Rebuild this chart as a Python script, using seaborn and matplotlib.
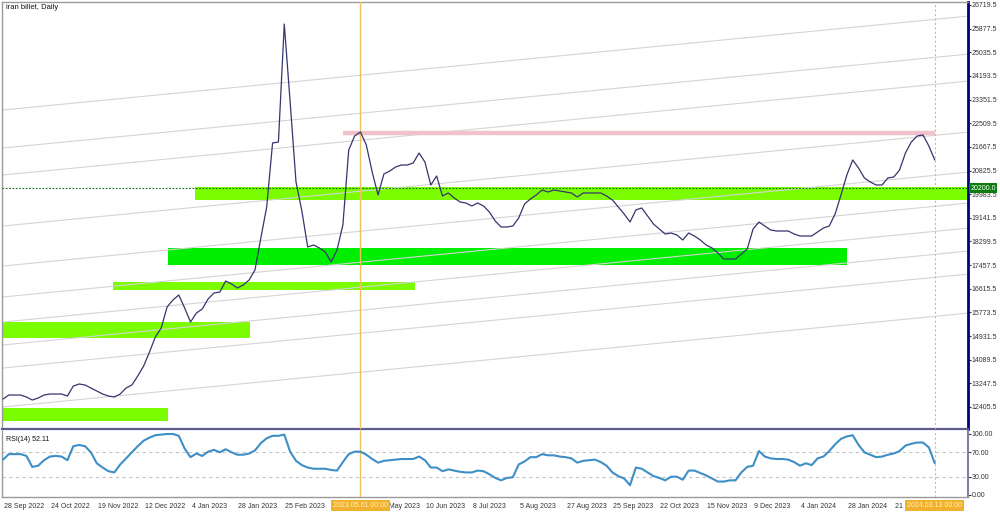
import numpy as np
import pandas as pd
import matplotlib
matplotlib.use("Agg")
import matplotlib.pyplot as plt
import matplotlib.transforms as mtransforms
from matplotlib.patches import Rectangle
import seaborn as sns

sns.set_style("white")
plt.rcParams['font.family'] = ['Liberation Sans', 'DejaVu Sans']

# daily bar index (read every 2nd bar), 0 = 28 Sep 2022, 318 = 2024.03.13
bars = list(range(0, 320, 2))

price = [
    12689, 12831, 12831, 12831, 12760, 12653, 12725, 12831, 12867, 12867,
    12867, 12796, 13152, 13223, 13188, 13081, 12974, 12867, 12796, 12760,
    12867, 13081, 13188, 13509, 13864, 14363, 14897, 15217, 15965, 16214,
    16393, 15929, 15431, 15751, 15894, 16250, 16464, 16500, 16891, 16784,
    16642, 16749, 16927, 17283, 18422, 19526, 21805, 21841, 26041, 23265,
    20417, 19384, 18102, 18173, 18066, 17924, 17568, 17995, 18885, 21556,
    22055, 22197, 21734, 20773, 19954, 20701, 20808, 20951, 21022, 21022,
    21093, 21449, 21129, 20310, 20630, 19918, 20025, 19847, 19704, 19669,
    19562, 19669, 19562, 19348, 19028, 18814, 18814, 18850, 19135, 19633,
    19811, 19954, 20132, 20060, 20132, 20096, 20060, 20025, 19882, 20025,
    20025, 20025, 20025, 19918, 19775, 19526, 19277, 18992, 19420, 19491,
    19206, 18921, 18743, 18565, 18600, 18529, 18351, 18600, 18493, 18351,
    18173, 18066, 17888, 17674, 17674, 17674, 17852, 18030, 18743, 18992,
    18850, 18707, 18672, 18672, 18672, 18565, 18493, 18493, 18493, 18636,
    18778, 18850, 19277, 19954, 20666, 21200, 20915, 20559, 20417, 20310,
    20310, 20559, 20594, 20844, 21449, 21841, 22055, 22090, 21698, 21200,
]

rsi = [
    58, 67, 67, 67, 64, 46, 48, 57, 63, 64,
    63, 57, 80, 82, 80, 70, 52, 45, 39, 37,
    50, 60, 70, 80, 89, 94, 98, 99, 100, 100,
    97, 76, 62, 68, 64, 71, 74, 70, 75, 70,
    66, 66, 68, 73, 85, 93, 97, 97, 99, 71,
    56, 49, 45, 43, 43, 43, 41, 40, 54, 67,
    71, 71, 66, 59, 53, 56, 57, 58, 59, 59,
    59, 63, 57, 45, 45, 39, 42, 40, 38, 37,
    37, 40, 39, 34, 28, 24, 28, 29, 50, 55,
    62, 62, 67, 65, 65, 63, 62, 60, 53, 56,
    57, 58, 54, 48, 37, 31, 27, 16, 45, 43,
    37, 31, 28, 24, 30, 30, 25, 40, 40, 36,
    32, 27, 22, 22, 24, 24, 37, 46, 48, 72,
    63, 60, 59, 59, 58, 54, 48, 52, 49, 60,
    63, 72, 83, 92, 96, 98, 82, 70, 66, 62,
    63, 66, 68, 72, 81, 84, 86, 86, 78, 52.11,
]

# x axis labels every 16 bars (the one at bar 112 is hidden under the highlight)
label_bars = [0, 16, 32, 48, 64, 80, 96, 112, 128, 144, 160, 176, 192, 208,
              224, 240, 256, 272, 288, 304]
label_text = ["28 Sep 2022", "24 Oct 2022", "19 Nov 2022", "12 Dec 2022",
              "4 Jan 2023", "28 Jan 2023", "25 Feb 2023", "",
              "14 May 2023", "10 Jun 2023", "8 Jul 2023", "5 Aug 2023",
              "27 Aug 2023", "25 Sep 2023", "22 Oct 2023", "15 Nov 2023",
              "9 Dec 2023", "4 Jan 2024", "28 Jan 2024", "21 Feb 2024"]

price_ticks = [26719.5, 25877.5, 25035.5, 24193.5, 23351.5, 22509.5, 21667.5,
               20825.5, 19983.5, 19141.5, 18299.5, 17457.5, 16615.5, 15773.5,
               14931.5, 14089.5, 13247.5, 12405.5]
rsi_ticks = [0, 30, 70, 100]

# green zones (rectangles): bar range and price range
zone_start = [-5, -5, 37.5, 56.3, 65.5]
zone_end = [56.3, 84.3, 140.6, 288, 340]
zone_low = [11906, 14861, 16571, 17461, 19775]
zone_high = [12369, 15431, 16856, 18066, 20230]
zone_color = ["#7cfc00", "#7cfc00", "#7cfc00", "#00ee00", "#7cfc00"]

# parallel channel lines: value at bar 0 and slope per bar
channel_start = [22980, 21627, 20666, 18850, 17425, 16322, 15431, 14612, 13793, 12404]
channel_slope = 10.15

resistance = 22162
resistance_bars = [116, 318]
bid = 20200.0
marker_bar = 122
last_bar = 318

fig = plt.figure(figsize=(10, 5.14), dpi=100)
ax = fig.add_axes([0.002, 1 - 429 / 514, 0.966, 427 / 514])
ax2 = fig.add_axes([0.002, 1 - 497 / 514, 0.966, 66 / 514])

xlim = (-0.34, 329.35)

# zones
for x0, x1, lo, hi, c in zip(zone_start, zone_end, zone_low, zone_high, zone_color):
    ax.add_patch(Rectangle((x0, lo), x1 - x0, hi - lo, facecolor=c, edgecolor="none", zorder=1))

# channel lines
xs = np.array(xlim)
for v0 in channel_start:
    ax.plot(xs, v0 + channel_slope * xs, color="#d4d4d4", lw=0.8, zorder=2)

ax.hlines(resistance, resistance_bars[0], resistance_bars[1], color="#f2c2cc", lw=3.2, zorder=3)
ax.axhline(bid, color="#0a6e0a", lw=0.8, ls=(0, (1.5, 1.5)), zorder=3)

sns.lineplot(x=bars, y=price, ax=ax, color="#35356f", lw=0.9, zorder=5)

for a in (ax, ax2):
    a.axvline(marker_bar, color="#f0c060", lw=1.0, zorder=4)
    a.axvline(last_bar, color="#dcb67c", lw=0.8, ls=(0, (2, 2)), zorder=4)

ax.set_xlim(xlim)
ax.set_ylim(11621, 26826)
ax.set_xticks([])
ax.set_xlabel("")
ax.set_ylabel("")
ax.yaxis.tick_right()
ax.set_yticks(price_ticks)
ax.set_yticklabels(["%.1f" % t for t in price_ticks])
ax.tick_params(axis="y", length=2, width=0.8, pad=0.8, labelsize=5, colors="#333333")
ax.spines["right"].set_color("#000080")
ax.spines["right"].set_linewidth(2)
ax.spines["bottom"].set_color("#5c5c90")
ax.spines["bottom"].set_linewidth(1.6)
for s in ("left", "top"):
    ax.spines[s].set_color("#9a9a9a")
    ax.spines[s].set_linewidth(1)

ax.text(0.004, 0.995, "iran billet, Daily", transform=ax.transAxes, fontsize=5.5,
        va="top", ha="left", color="#111111")

trans = mtransforms.blended_transform_factory(ax.transAxes, ax.transData)
ax.text(1.0025, bid, "20200.0", transform=trans, fontsize=5, color="white",
        va="center", ha="left", clip_on=False, zorder=10,
        bbox=dict(facecolor="#0b7d0b", edgecolor="none", pad=0.8))

# RSI panel
for lvl in (30, 70):
    ax2.axhline(lvl, color="#c4c4c4", lw=0.8, ls=(0, (3, 3)), zorder=1)
sns.lineplot(x=bars, y=rsi, ax=ax2, color="#3d8fc6", lw=1.5, zorder=5)
ax2.set_xlim(xlim)
ax2.set_ylim(-3.3, 104.9)
ax2.set_xlabel("")
ax2.set_ylabel("")
ax2.yaxis.tick_right()
ax2.set_yticks(rsi_ticks)
ax2.set_yticklabels(["%.2f" % t for t in rsi_ticks])
ax2.tick_params(axis="y", length=2, width=0.8, pad=0.8, labelsize=5, colors="#333333")
ax2.set_xticks(label_bars)
ax2.set_xticklabels(label_text)
ax2.tick_params(axis="x", length=3, width=0.8, pad=1.5, labelsize=5, colors="#333333")
offset = mtransforms.ScaledTranslation(1 / 100, 0, fig.dpi_scale_trans)
for lab in ax2.get_xticklabels():
    lab.set_ha("left")
    lab.set_transform(lab.get_transform() + offset)
ax2.spines["top"].set_visible(False)
ax2.spines["right"].set_color("#8080a8")
ax2.spines["right"].set_linewidth(1.5)
for s in ("left", "bottom"):
    ax2.spines[s].set_color("#9a9a9a")
    ax2.spines[s].set_linewidth(1)

ax2.text(0.004, 0.93, "RSI(14) 52.11", transform=ax2.transAxes, fontsize=5,
         va="top", ha="left", color="#111111")

# highlighted date labels under the vertical lines
trans2 = mtransforms.blended_transform_factory(ax2.transData, ax2.transAxes)
for b, txt in [(marker_bar, "2023.05.01 00:00"), (last_bar, "2024.03.13 00:00")]:
    ax2.text(b, -0.135, txt, transform=trans2, fontsize=5, color="#fff0c4",
             ha="center", va="center", clip_on=False, zorder=10,
             bbox=dict(facecolor="#f0b22e", edgecolor="none", pad=1.4))

fig.savefig("out.png", dpi=100)
